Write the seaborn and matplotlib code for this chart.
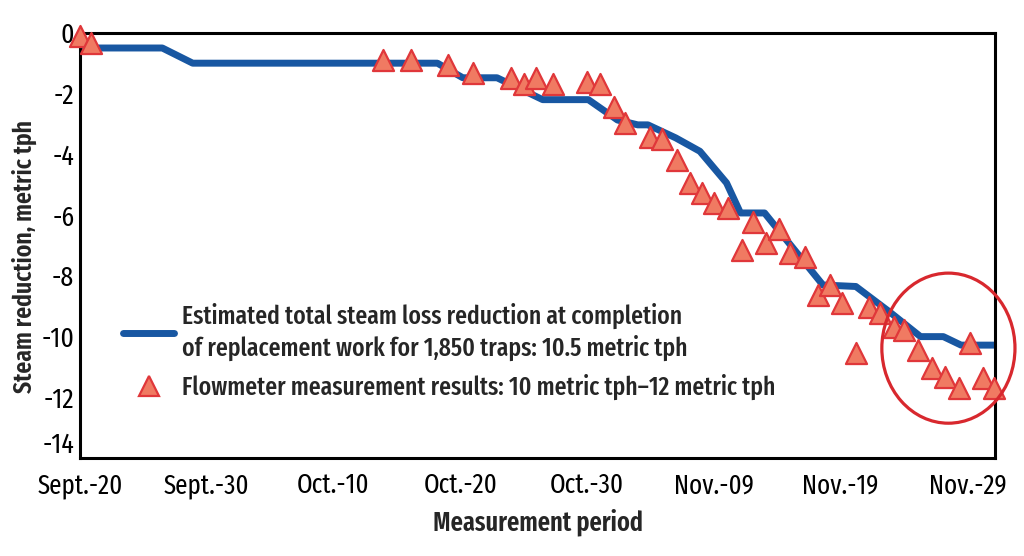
import matplotlib
matplotlib.use("Agg")
from matplotlib import pyplot as plt
from matplotlib.lines import Line2D
from matplotlib.patches import Ellipse
import seaborn as sns
import pandas as pd

# estimated total steam loss reduction (days since Sept. 20)
line_days = [0, 6.5, 8.9, 28.2, 30.2, 32.9, 36.5, 40.1, 42.4, 44.0, 44.8, 47.0,
             48.9, 51.0, 52.1, 54.0, 58.6, 61.2, 63.9, 66.3, 68.1, 69.5, 72.2]
line_vals = [-0.5, -0.5, -1.0, -1.0, -1.48, -1.48, -2.2, -2.2, -2.87, -3.03, -3.03, -3.46,
             -3.9, -4.94, -5.93, -5.93, -8.3, -8.35, -9.2, -10.0, -10.0, -10.28, -10.28]

# flowmeter measurements
meas_days = [0, 0.9, 23.9, 26.1, 29.0, 31.0, 34.0, 35.0, 36.0, 37.3, 40.0, 41.0,
             42.1, 43.0, 45.0, 45.9, 47.1, 48.1, 49.1, 50.0, 51.1, 52.2, 53.1, 54.1,
             55.1, 56.0, 57.2, 58.2, 59.2, 60.1, 61.2, 62.2, 63.1, 64.2, 65.0, 66.1,
             67.2, 68.2, 69.3, 70.2, 71.2, 72.1]
meas_vals = [-0.1, -0.33, -0.89, -0.89, -1.05, -1.32, -1.48, -1.68, -1.48, -1.68, -1.61, -1.68,
             -2.43, -2.96, -3.43, -3.49, -4.18, -4.94, -5.27, -5.6, -5.76, -7.15, -6.22, -6.92,
             -6.46, -7.25, -7.38, -8.63, -8.3, -8.9, -10.54, -9.02, -9.23, -9.68, -9.78, -10.44,
             -11.03, -11.33, -11.7, -10.2, -11.36, -11.7]

tick_days = [0, 10, 20, 30, 40, 50, 60, 70]
tick_labels = ["Sept.-20", "Sept.-30", "Oct.-10", "Oct.-20", "Oct.-30", "Nov.-09", "Nov.-19", "Nov.-29"]

line_label = "Estimated total steam loss reduction at completion\nof replacement work for 1,850 traps: 10.5 metric tph"
meas_label = "Flowmeter measurement results: 10 metric tph\u201312 metric tph"

blue = "#1857a2"
tri_face = "#f07a62"
tri_edge = "#e0373a"
ring = "#d8282e"

sns.set_style("white")
plt.rcParams['font.family'] = ['Fira Sans Extra Condensed', 'Fira Sans Condensed', 'DejaVu Sans']
plt.rcParams['font.stretch'] = 'condensed'

line_df = pd.DataFrame({"day": line_days, "val": line_vals})
meas_df = pd.DataFrame({"day": meas_days, "val": meas_vals})

fig = plt.figure(figsize=(10.24, 5.56), dpi=100)
ax = fig.add_axes([0.078, 0.176, 0.894, 0.765])

sns.lineplot(data=line_df, x="day", y="val", color=blue, linewidth=5, ax=ax,
             estimator=None, sort=False, zorder=2)
sns.scatterplot(data=meas_df, x="day", y="val", marker="^", s=230, color=tri_face,
                edgecolor=tri_edge, linewidth=1.6, ax=ax, zorder=3, clip_on=False)

# highlight of the last days
ax.add_patch(Ellipse((68.5, -10.38), 10.5, 4.94, fill=False, edgecolor=ring,
                     linewidth=2.3, clip_on=False, zorder=4))

ax.set_xlim(0, 72.2)
ax.set_ylim(-14, 0)
ax.set_xticks(tick_days)
ax.set_xticklabels(tick_labels)
ax.set_yticks(range(-14, 1, 2))
ax.set_yticklabels([str(v) for v in range(-14, 1, 2)])
ax.tick_params(axis="both", direction="in", length=16, width=2.2, colors="black")
ax.tick_params(axis="x", pad=10, labelsize=19.5)
ax.tick_params(axis="y", pad=4, labelsize=20)
for s in ax.spines.values():
    s.set_linewidth(2.2)
    s.set_color("black")
# lowest y label sits a bit above its tick, clear of the date below
ax.get_yticklabels()[0].set_verticalalignment("bottom")

ax.set_xlabel("Measurement period", fontsize=19, fontweight="semibold", labelpad=7)
ax.set_ylabel("Steam reduction, metric tph", fontsize=18.5, fontweight="semibold")
ax.yaxis.set_label_coords(-0.047, 0.475)

handles = [Line2D([0], [0], color=blue, linewidth=5),
           Line2D([0], [0], marker="^", linestyle="none", markersize=15,
                  markerfacecolor=tri_face, markeredgecolor=tri_edge, markeredgewidth=1.6)]
leg = ax.legend(handles, [line_label, meas_label], loc="upper left",
                bbox_to_anchor=(0.047, 0.366), frameon=False, handlelength=2.0,
                handletextpad=0.3, labelspacing=0.5, borderaxespad=0, borderpad=0,
                prop={"size": 18.5, "weight": "medium"})
leg.get_texts()[0].set_linespacing(1.3)

fig.savefig("out.png", dpi=100)
